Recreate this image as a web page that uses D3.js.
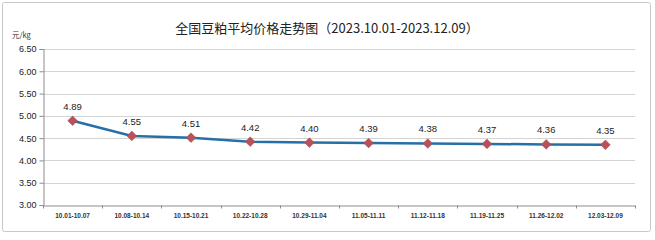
<!DOCTYPE html>
<html>
<head>
<meta charset="utf-8">
<script src="https://cdn.jsdelivr.net/npm/d3@7"></script>
<style>
  body { margin: 0; background: #fff; }
  svg { display: block; }
</style>
</head>
<body>
<svg id="chart"></svg>
<script>
// weekly periods and national soybean meal average price (yuan/kg)
var periods = ["10.01-10.07", "10.08-10.14", "10.15-10.21", "10.22-10.28", "10.29-11.04",
               "11.05-11.11", "11.12-11.18", "11.19-11.25", "11.26-12.02", "12.03-12.09"];
var prices = [4.89, 4.55, 4.51, 4.42, 4.40, 4.39, 4.38, 4.37, 4.36, 4.35];
var yTicks = [3.00, 3.50, 4.00, 4.50, 5.00, 5.50, 6.00, 6.50];

var W = 655, H = 240,
    margin = {top: 49, right: 20, bottom: 35, left: 43},
    width = 635 - margin.left,
    height = 205 - margin.top;

var svg = d3.select("#chart").attr("width", W).attr("height", H);

// outer frame
svg.append("rect")
    .attr("x", 2.5).attr("y", 2.5)
    .attr("width", 648).attr("height", 229)
    .attr("rx", 2)
    .attr("fill", "#fff")
    .attr("stroke", "#c8c8c8");

svg.append("text")
    .attr("x", 327).attr("y", 33)
    .attr("text-anchor", "middle")
    .style("font", "13px 'Noto Sans CJK SC', sans-serif")
    .attr("fill", "#222")
    .text("全国豆粕平均价格走势图（2023.10.01-2023.12.09）");

svg.append("text")
    .attr("x", 12).attr("y", 38)
    .style("font", "7.5px 'Noto Sans CJK SC', sans-serif")
    .attr("fill", "#333")
    .text("元/kg");

var g = svg.append("g").attr("transform", "translate(" + margin.left + "," + margin.top + ")");

var x = d3.scaleBand().domain(periods).range([0, width]);
var y = d3.scaleLinear().domain([3, 6.5]).range([height, 0]);

// gridlines
g.append("g")
    .selectAll("line")
    .data(yTicks.slice(1))
    .enter().append("line")
      .attr("x1", 0).attr("x2", width)
      .attr("y1", d => Math.round(y(d)) + 0.5)
      .attr("y2", d => Math.round(y(d)) + 0.5)
      .attr("stroke", "#d4d4d4");

// y axis
var yAxis = g.append("g")
    .attr("transform", "translate(0.5,0)")
    .call(d3.axisLeft(y).tickValues(yTicks).tickFormat(d3.format(".2f")).tickSize(4).tickPadding(3));
yAxis.select(".domain").attr("stroke", "#8c8c8c");
yAxis.selectAll(".tick line").attr("stroke", "#8c8c8c");
yAxis.selectAll("text")
    .style("font", "9px 'Liberation Sans', Arial, sans-serif")
    .attr("fill", "#222");

// x axis with ticks between categories
var xAxis = g.append("g")
    .attr("transform", "translate(0," + (Math.round(height) + 0.5) + ")")
    .call(d3.axisBottom(x).tickSize(0).tickPadding(8));
xAxis.select(".domain").attr("stroke", "#8c8c8c");
xAxis.selectAll("text")
    .style("font", "600 6.5px 'Liberation Sans', Arial, sans-serif")
    .attr("fill", "#333");
xAxis.selectAll(".sep")
    .data(d3.range(periods.length + 1))
    .enter().append("line")
      .attr("class", "sep")
      .attr("x1", i => Math.round(i * x.step()) + 0.5)
      .attr("x2", i => Math.round(i * x.step()) + 0.5)
      .attr("y1", 0).attr("y2", 3)
      .attr("stroke", "#8c8c8c");

var cx = (d, i) => x(periods[i]) + x.bandwidth() / 2;

g.append("path")
    .datum(prices)
    .attr("fill", "none")
    .attr("stroke", "#2670a9")
    .attr("stroke-width", 2.5)
    .attr("d", d3.line().x(cx).y(d => y(d)));

g.selectAll(".pt")
    .data(prices)
    .enter().append("path")
      .attr("class", "pt")
      .attr("d", d3.symbol().type(d3.symbolDiamond2).size(60))
      .attr("transform", (d, i) => "translate(" + cx(d, i) + "," + y(d) + ")")
      .attr("fill", "#b9515a")
      .attr("stroke", "#a8474f")
      .attr("stroke-width", 0.5);

g.selectAll(".lbl")
    .data(prices)
    .enter().append("text")
      .attr("class", "lbl")
      .attr("x", cx)
      .attr("y", d => y(d) - 11)
      .attr("text-anchor", "middle")
      .style("font", "9.5px 'Liberation Sans', Arial, sans-serif")
      .attr("fill", "#222")
      .text(d => d3.format(".2f")(d));
</script>
</body>
</html>
